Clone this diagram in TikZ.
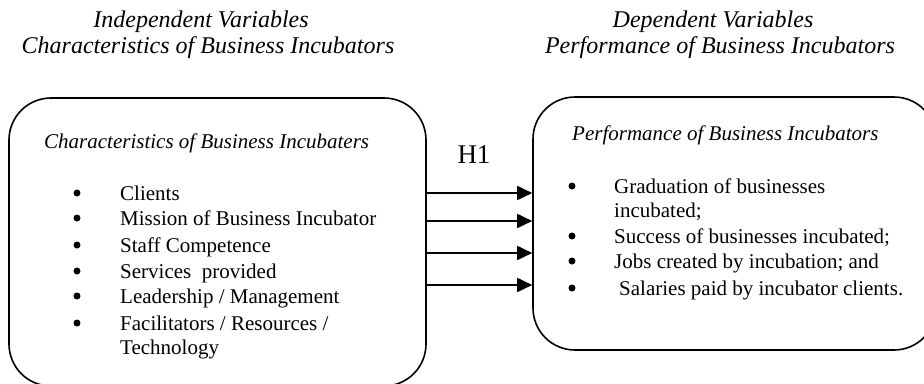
\documentclass[tikz,border=0pt]{standalone}
\usepackage{fontspec}
\setmainfont{Liberation Serif}
\usetikzlibrary{arrows.meta}
\tikzset{
  box/.style={draw, line width=1.6pt, rounded corners=42pt, inner sep=0pt},
  head/.style={anchor=base, inner sep=0pt, font=\fontsize{24}{28}\selectfont\itshape},
  ttl/.style={anchor=base west, inner sep=0pt, font=\fontsize{21}{25}\selectfont\itshape},
  txt/.style={anchor=base west, inner sep=0pt, font=\fontsize{21}{25}\selectfont},
  bul/.style={circle, fill, inner sep=0pt, minimum size=7pt, yshift=7pt},
  arr/.style={line width=1.8pt, -{Triangle[length=15pt,width=14pt]}}
}
\begin{document}
\begin{tikzpicture}[x=1pt,y=-1pt]
\useasboundingbox (0,0) rectangle (924,383);
% headers
\node[head] (h1) at (201,27) {Independent Variables};
\node[head] (h2) at (208,53) {Characteristics of Business Incubators};
\node[head] (h3) at (713,27) {Dependent Variables};
\node[head] (h4) at (720,53) {Performance of Business Incubators};
% boxes
\node[box, minimum width=417pt, minimum height=288pt] (L) at (217.5,242) {};
\node[box, minimum width=403pt, minimum height=253pt] (R) at (734.5,223.5) {};
% left content
\node[ttl] (lt) at (44,148) {Characteristics of Business Incubaters};
\node[bul] (lb1) at (77,200) {};
\node[bul] (lb2) at (77,225) {};
\node[bul] (lb3) at (77,252) {};
\node[bul] (lb4) at (77,278) {};
\node[bul] (lb5) at (77,303) {};
\node[bul] (lb6) at (77,330) {};
\node[txt] (l1) at (120,200) {Clients};
\node[txt] (l2) at (120,225) {Mission of Business Incubator};
\node[txt] (l3) at (120,252) {Staff Competence};
\node[txt] (l4) at (120,278) {Services\ \ provided};
\node[txt] (l5) at (120,303) {Leadership / Management};
\node[txt] (l6) at (120,330) {Facilitators / Resources /};
\node[txt] (l7) at (120,354) {Technology};
% right content
\node[ttl] (rt) at (572,140) {Performance of Business Incubators};
\node[bul] (rb1) at (572,193) {};
\node[bul] (rb2) at (572,243) {};
\node[bul] (rb3) at (572,268) {};
\node[bul] (rb4) at (572,295) {};
\node[txt] (r1) at (614,193) {Graduation of businesses};
\node[txt] (r2) at (614,217) {incubated;};
\node[txt] (r3) at (614,243) {Success of businesses incubated;};
\node[txt] (r4) at (614,268) {Jobs created by incubation; and};
\node[txt] (r5) at (619,295) {Salaries paid by incubator clients.};
% H1
\node[anchor=base, inner sep=0pt, font=\fontsize{27}{30}\selectfont] (H) at (474,163) {H1};
% arrows
\draw[arr] (L.east |- 0,193) -- (R.west |- 0,193);
\draw[arr] (L.east |- 0,221) -- (R.west |- 0,221);
\draw[arr] (L.east |- 0,253) -- (R.west |- 0,253);
\draw[arr] (L.east |- 0,285) -- (R.west |- 0,285);
\end{tikzpicture}
\end{document}
